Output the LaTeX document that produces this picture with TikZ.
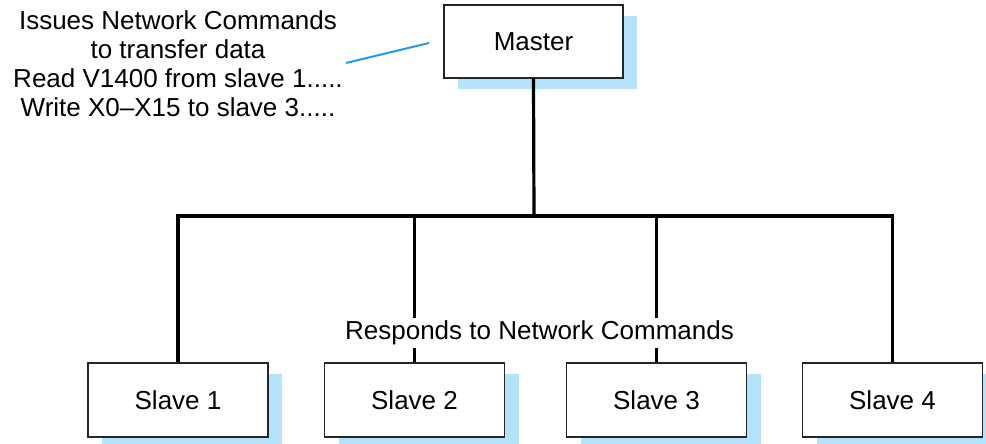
\documentclass[tikz,border=0pt]{standalone}
\usepackage{fontspec}
\setmainfont{Liberation Sans}
\usetikzlibrary{shadows}
\definecolor{shadowblue}{HTML}{B3E2FA}
\definecolor{callout}{HTML}{1E9BEF}
\tikzset{
  unitbox/.style={draw=black!85, line width=1.1pt, fill=white, minimum width=180pt, minimum height=74pt, inner sep=0pt,
    font=\fontsize{26}{29.3}\selectfont,
    drop shadow={shadow xshift=14pt, shadow yshift=-11pt, fill=shadowblue, draw=none, opacity=1}},
  bus/.style={line width=3.2pt, black},
  lbl/.style={font=\fontsize{26}{29.3}\selectfont, inner sep=0pt},
}
\begin{document}
\begin{tikzpicture}[x=1pt,y=-1pt]
\useasboundingbox (0,0) rectangle (986,444);
\node[unitbox, minimum width=179pt, minimum height=73pt] (m) at (533.5,41.5) {Master};
\node[unitbox] (s1) at (178,400) {Slave 1};
\node[unitbox] (s2) at (414.5,400) {Slave 2};
\node[unitbox] (s3) at (656.5,400) {Slave 3};
\node[unitbox] (s4) at (892.5,400) {Slave 4};
\coordinate (bj) at (534,216);
\begin{scope}[on background layer/.try]
\end{scope}
\draw[bus] (m.south) -- (bj);
\draw[bus, line join=miter] (s1.north) |- (bj) -| (s4.north);
\draw[bus] (s2.north) -- (s2.north |- bj);
\draw[bus] (s3.north) -- (s3.north |- bj);
\node[lbl, fill=white, inner xsep=2pt, inner ysep=3pt] (resp) at (539.5,333) {Responds to Network Commands};
\node[lbl, align=center, anchor=north] (iss) at (178,10) {Issues Network Commands\\to transfer data\\Read V1400 from slave 1.....\\Write X0–X15 to slave 3.....};
\coordinate (ca) at (346,63);
\coordinate (cb) at (429,43);
\draw[callout, line width=2pt] (ca) -- (cb);
\end{tikzpicture}
\end{document}
